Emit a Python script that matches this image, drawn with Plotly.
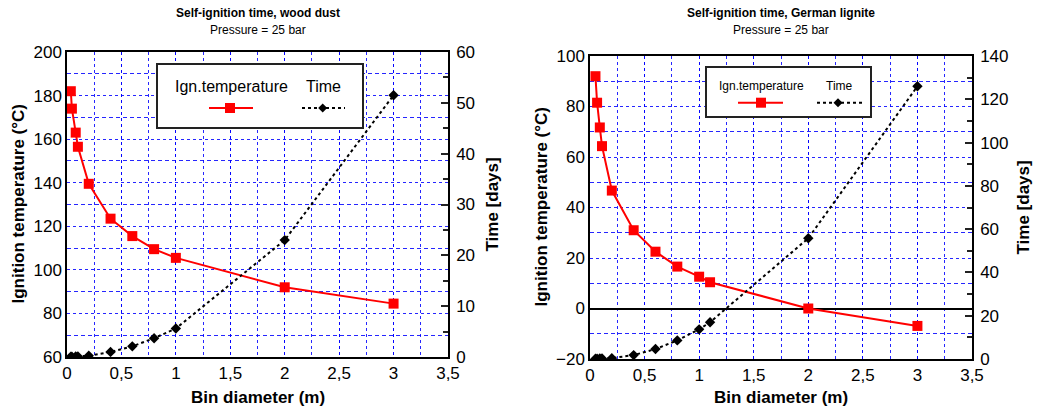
import plotly.graph_objects as go

W, H = 1056, 413

# ---------------- data ----------------
wood_diameter = [0.035, 0.045, 0.08, 0.1, 0.2, 0.4, 0.6, 0.8, 1.0, 2.0, 3.0]
wood_ign_temp = [182, 174, 163, 156.5, 139.5, 123.5, 115.5, 109.5, 105.5, 92, 84.5]
wood_time_days = [0.05, 0.07, 0.1, 0.12, 0.25, 1.0, 2.1, 3.7, 5.6, 23.0, 51.5]

lignite_diameter = [0.05, 0.065, 0.09, 0.11, 0.2, 0.4, 0.6, 0.8, 1.0, 1.1, 2.0, 3.0]
lignite_ign_temp = [92, 81.5, 71.7, 64.3, 46.7, 31, 22.5, 16.6, 12.6, 10.4, 0, -6.9]
lignite_time_days = [0.1, 0.15, 0.2, 0.25, 0.4, 1.8, 4.6, 8.6, 13.7, 17.0, 55.8, 126]

x_tick_vals = [0, 0.5, 1, 1.5, 2, 2.5, 3, 3.5]
x_tick_text = ["0", "0,5", "1", "1,5", "2", "2,5", "3", "3,5"]

titles = ["Self-ignition time, wood dust", "Self-ignition time, German lignite"]
subtitle = "Pressure = 25 bar"

FONT = "Liberation Sans, Arial, sans-serif"
RED = "#ff0000"
GRID = "rgba(0,0,255,0.85)"


def px(x):
    return x / W


def py(y):
    return 1 - y / H


# plot boxes in pixels (left, top, right, bottom)
boxes = [(67, 52, 448, 357), (590, 56, 972, 359)]

fig = go.Figure()

fig.add_trace(go.Scatter(x=wood_diameter, y=wood_ign_temp, mode="lines+markers",
                         line=dict(color=RED, width=2),
                         marker=dict(symbol="square", size=10, color=RED),
                         xaxis="x", yaxis="y", showlegend=False))
fig.add_trace(go.Scatter(x=wood_diameter, y=wood_time_days, mode="lines+markers",
                         line=dict(color="black", width=2, dash="dot"),
                         marker=dict(symbol="diamond", size=8, color="black"),
                         xaxis="x", yaxis="y2", showlegend=False))
fig.add_trace(go.Scatter(x=lignite_diameter, y=lignite_ign_temp, mode="lines+markers",
                         line=dict(color=RED, width=2),
                         marker=dict(symbol="square", size=10, color=RED),
                         xaxis="x2", yaxis="y3", showlegend=False))
fig.add_trace(go.Scatter(x=lignite_diameter, y=lignite_time_days, mode="lines+markers",
                         line=dict(color="black", width=2, dash="dot"),
                         marker=dict(symbol="diamond", size=8, color="black"),
                         xaxis="x2", yaxis="y4", showlegend=False))

tickfont = dict(family=FONT, size=17, color="black")


def xaxis(box, anchor):
    l, t, r, b = box
    return dict(domain=[px(l), px(r)], anchor=anchor, range=[0, 3.5],
                tickvals=x_tick_vals, ticktext=x_tick_text, tickfont=tickfont,
                showline=True, linecolor="black", linewidth=1.5, mirror=True,
                showgrid=True, gridcolor=GRID, griddash="dot", gridwidth=1,
                minor=dict(dtick=0.25, tick0=0, showgrid=True, gridcolor=GRID,
                           griddash="dot", gridwidth=1),
                zeroline=False, ticks="", automargin=False, fixedrange=True)


def yleft(box, anchor, rng, dtick, zl=False):
    l, t, r, b = box
    return dict(domain=[py(b), py(t)], anchor=anchor, range=rng, dtick=dtick,
                tick0=0, tickfont=tickfont,
                showline=True, linecolor="black", linewidth=1.5, mirror=True,
                showgrid=True, gridcolor=GRID, griddash="dot", gridwidth=1,
                minor=dict(dtick=dtick / 2, tick0=0, showgrid=True, gridcolor=GRID,
                           griddash="4px,3px", gridwidth=1),
                zeroline=zl, zerolinecolor="black", zerolinewidth=1.5,
                ticks="", automargin=False, fixedrange=True)


def yright(overlay, anchor, rng, dtick):
    return dict(overlaying=overlay, anchor=anchor, side="right", range=rng,
                dtick=dtick, tick0=0, tickfont=tickfont,
                showline=True, linecolor="black", linewidth=1.5,
                showgrid=False, zeroline=False,
                ticks="inside", ticklen=7, tickwidth=1.5, tickcolor="#222",
                ticklabelstandoff=3,
                minor=dict(dtick=dtick / 2, ticks="inside", ticklen=5,
                           tickwidth=1.5, tickcolor="#222", showgrid=False),
                automargin=False, fixedrange=True)


fig.update_layout(
    width=W, height=H,
    margin=dict(l=0, r=0, t=0, b=0, pad=0, autoexpand=False),
    paper_bgcolor="white", plot_bgcolor="white",
    font=dict(family=FONT, color="black"),
    showlegend=False,
    xaxis=xaxis(boxes[0], "y"),
    yaxis=yleft(boxes[0], "x", [60, 200], 20),
    yaxis2=yright("y", "x", [0, 60], 10),
    xaxis2=xaxis(boxes[1], "y3"),
    yaxis3=yleft(boxes[1], "x2", [-20, 100], 20, zl=True),
    yaxis4=yright("y3", "x2", [0, 140], 20),
)

annotations = []
shapes = []


def note(x, y, text, size, bold=False, angle=0):
    annotations.append(dict(x=px(x), y=py(y), xref="paper", yref="paper",
                            xanchor="center", yanchor="middle",
                            text=("<b>" + text + "</b>") if bold else text,
                            showarrow=False, textangle=angle,
                            font=dict(family=FONT, size=size, color="black")))


for i, (l, t, r, b) in enumerate(boxes):
    cx = (l + r) / 2
    cy = (t + b) / 2
    note(cx, 13, titles[i], 12, bold=True)
    note(cx, 30, subtitle, 12)
    note(cx, 397, "Bin diameter (m)", 17, bold=True)
    note(l - 49, cy, "Ignition temperature (°C)", 17, bold=True, angle=-90)
    note(r + (44 if i == 0 else 51), cy, "Time [days]", 17, bold=True, angle=-90)

# legends (box, text row, sample row)
legends = [
    dict(box=(157, 64, 363, 128), fs=16, t1=231, t2=323.5, ty=87, sy=108,
         red=(209, 253, 230), blk=(302, 345, 322.7), sq=10, dm=9),
    dict(box=(706, 67, 871, 117), fs=12, t1=761.5, t2=839, ty=86, sy=102.7,
         red=(738, 783, 761), blk=(817, 862, 838), sq=10, dm=9),
]
for lg in legends:
    l, t, r, b = lg["box"]
    shapes.append(dict(type="rect", xref="paper", yref="paper",
                       x0=px(l), x1=px(r), y0=py(b), y1=py(t),
                       line=dict(color="#222", width=2), fillcolor="white", layer="above"))
    note(lg["t1"], lg["ty"], "Ign.temperature", lg["fs"])
    note(lg["t2"], lg["ty"], "Time", lg["fs"])
    x0, x1, xm = lg["red"]
    sy = lg["sy"]
    shapes.append(dict(type="line", xref="paper", yref="paper",
                       x0=px(x0), x1=px(x1), y0=py(sy), y1=py(sy),
                       line=dict(color=RED, width=2), layer="above"))
    s = lg["sq"] / 2
    shapes.append(dict(type="rect", xref="paper", yref="paper",
                       x0=px(xm - s), x1=px(xm + s), y0=py(sy + s), y1=py(sy - s),
                       line=dict(width=0), fillcolor=RED, layer="above"))
    x0, x1, xm = lg["blk"]
    shapes.append(dict(type="line", xref="paper", yref="paper",
                       x0=px(x0), x1=px(x1), y0=py(sy), y1=py(sy),
                       line=dict(color="black", width=2, dash="dot"), layer="above"))
    d = lg["dm"] / 2
    path = "M {},{} L {},{} L {},{} L {},{} Z".format(
        px(xm - d), py(sy), px(xm), py(sy - d), px(xm + d), py(sy), px(xm), py(sy + d))
    shapes.append(dict(type="path", xref="paper", yref="paper", path=path,
                       fillcolor="black", line=dict(width=0), layer="above"))

fig.update_layout(annotations=annotations, shapes=shapes)

fig.write_html("out.html")
